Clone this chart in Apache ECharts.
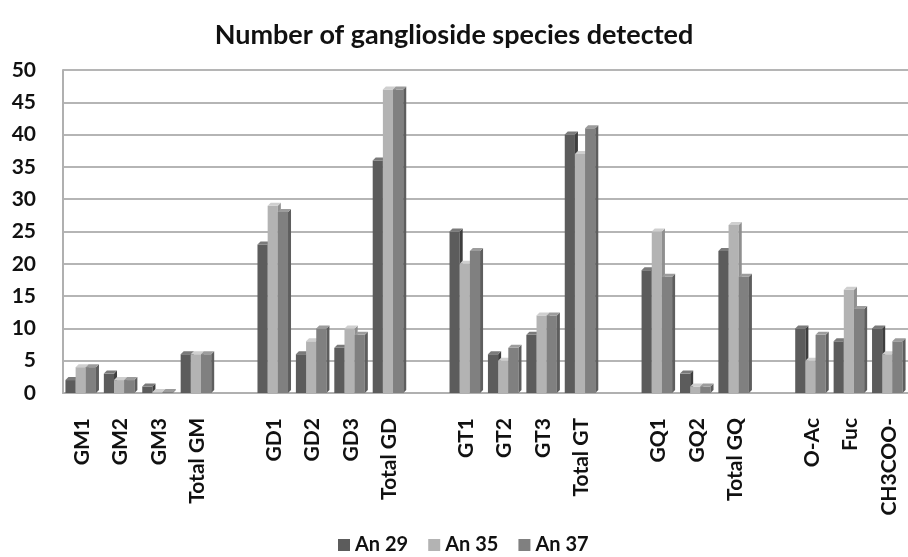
<!DOCTYPE html>
<html>
<head>
<meta charset="utf-8">
<script src="https://cdn.jsdelivr.net/npm/echarts@6/dist/echarts.min.js"></script>
<style>
  html, body { margin: 0; padding: 0; background: #fff; }
  #chart { width: 908px; height: 557px; }
</style>
</head>
<body>
<div id="chart"></div>
<script>
// Categories; empty strings leave a gap between ganglioside classes
const categories = [
  'GM1', 'GM2', 'GM3', 'Total GM', '',
  'GD1', 'GD2', 'GD3', 'Total GD', '',
  'GT1', 'GT2', 'GT3', 'Total GT', '',
  'GQ1', 'GQ2', 'Total GQ', '',
  'O-Ac', 'Fuc', 'CH3COO-'
];

const an29 = [2, 3, 1, 6, null, 23, 6, 7, 36, null, 25, 6, 9, 40, null, 19, 3, 22, null, 10, 8, 10];
const an35 = [4, 2, 0, 6, null, 29, 8, 10, 47, null, 20, 5, 12, 37, null, 25, 1, 26, null, 5, 16, 6];
const an37 = [4, 2, 0, 6, null, 28, 10, 9, 47, null, 22, 7, 12, 41, null, 18, 1, 18, null, 9, 13, 8];

const seriesNames = ['An 29', 'An 35', 'An 37'];
const yTicks = [0, 5, 10, 15, 20, 25, 30, 35, 40, 45, 50];

// front / top / side shades for each series
const shades = [
  { front: '#5c5c5c', top: '#7a7a7a', side: '#3e3e3e' },
  { front: '#b3b3b3', top: '#cfcfcf', side: '#8f8f8f' },
  { front: '#808080', top: '#9c9c9c', side: '#5e5e5e' }
];

const DEPTH = 3;
const FONT = 'Lato';

function bar3d(seriesIdx) {
  return function (params, api) {
    const v = api.value(1);
    if (v === null || v === undefined || isNaN(v)) return;
    const band = api.size([1, 0])[0];
    const bw = band * 0.265;
    const center = api.coord([api.value(0), 0]);
    const top = api.coord([api.value(0), v]);
    const x0 = center[0] + (seriesIdx - 1.5) * bw - DEPTH / 2;
    const x1 = x0 + bw;
    const yb = center[1];
    let yt = top[1];
    if (yb - yt < 1) yt = yb - 1;
    const c = shades[seriesIdx];
    return {
      type: 'group',
      children: [
        { type: 'rect', shape: { x: x0, y: yt, width: bw, height: yb - yt },
          style: { fill: c.front } },
        { type: 'polygon', shape: { points: [[x1, yt], [x1 + DEPTH, yt - DEPTH], [x1 + DEPTH, yb - DEPTH], [x1, yb]] },
          style: { fill: c.side } },
        { type: 'polygon', shape: { points: [[x0, yt], [x0 + DEPTH, yt - DEPTH], [x1 + DEPTH, yt - DEPTH], [x1, yt]] },
          style: { fill: c.top } }
      ]
    };
  };
}

const data = [an29, an35, an37];

const chart = echarts.init(document.getElementById('chart'), null, { renderer: 'canvas' });
chart.setOption({
  backgroundColor: '#ffffff',
  animation: false,
  title: {
    text: 'Number of ganglioside species detected',
    left: 'center',
    top: 17,
    textStyle: { fontFamily: FONT, fontWeight: 'bold', fontSize: 27, color: '#111' }
  },
  legend: {
    left: 333,
    top: 530,
    itemWidth: 12,
    itemHeight: 12,
    itemGap: 20,
    icon: 'rect',
    data: seriesNames,
    textStyle: { fontFamily: FONT, fontWeight: 'bold', fontSize: 20, color: '#111' }
  },
  grid: { left: 63, right: -5, top: 70, bottom: 164 },
  xAxis: {
    type: 'category',
    data: categories,
    axisLine: { show: true, lineStyle: { color: '#b0b0b0', width: 2 } },
    axisTick: { show: false },
    axisLabel: {
      interval: 0,
      rotate: 90,
      margin: 25,
      fontFamily: FONT,
      fontWeight: 'bold',
      fontSize: 21,
      color: '#111'
    }
  },
  yAxis: {
    type: 'value',
    min: yTicks[0],
    max: yTicks[yTicks.length - 1],
    interval: 5,
    axisLine: { show: true, lineStyle: { color: '#b0b0b0', width: 2 } },
    axisTick: { show: false },
    splitLine: { lineStyle: { color: '#b5b5b5', width: 2 } },
    axisLabel: {
      margin: 27,
      fontFamily: FONT,
      fontWeight: 'bold',
      fontSize: 21,
      color: '#111'
    }
  },
  color: shades.map(s => s.front),
  series: data.map((arr, i) => ({
    name: seriesNames[i],
    type: 'custom',
    renderItem: bar3d(i),
    encode: { x: 0, y: 1 },
    data: arr.map((v, k) => [k, v])
  }))
});
</script>
</body>
</html>
